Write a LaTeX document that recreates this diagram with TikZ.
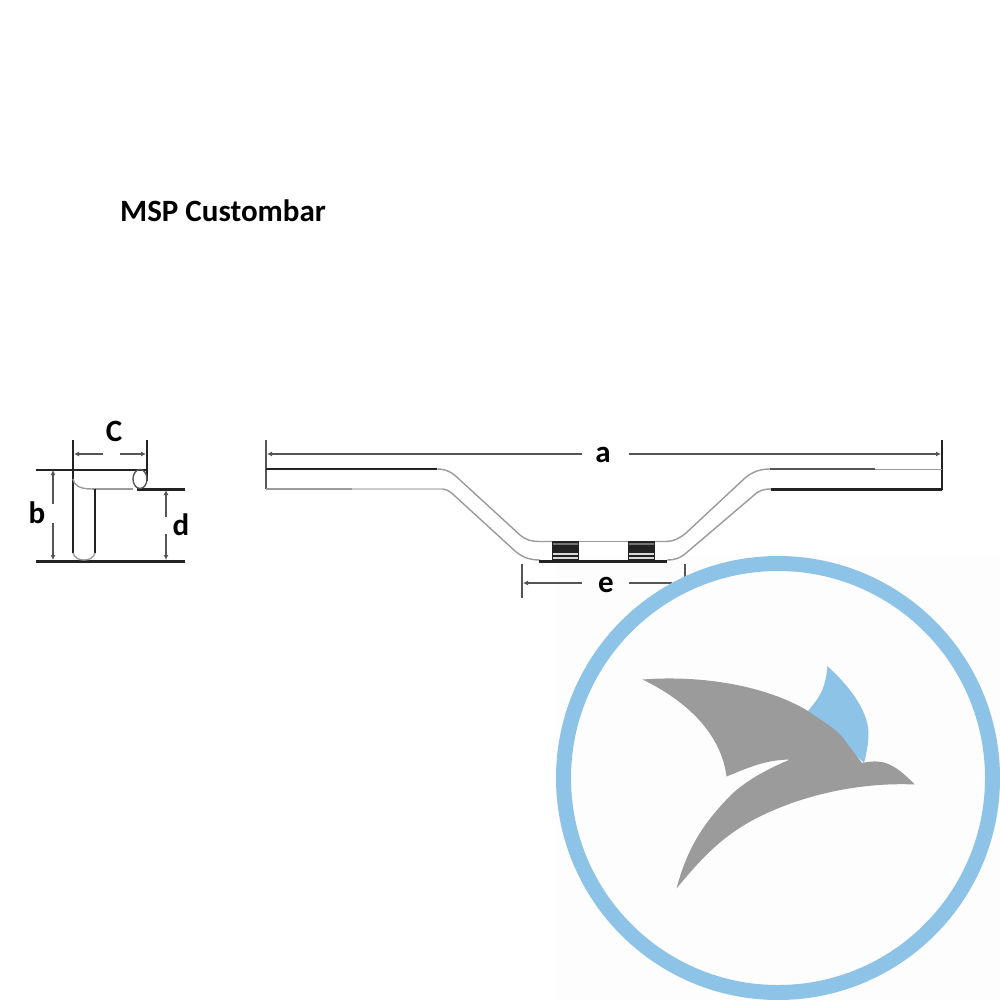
\documentclass[tikz,border=0pt]{standalone}
\usepackage{fontspec}
\setmainfont{Carlito}
\usetikzlibrary{arrows.meta}
\definecolor{ringblue}{HTML}{8DC3E6}
\definecolor{birdgrey}{HTML}{9B9B9B}
\definecolor{linegrey}{HTML}{555555}
\definecolor{softgrey}{HTML}{9A9A9A}
\definecolor{inkblack}{HTML}{222222}
\tikzset{
  lab/.style={font=\bfseries\fontsize{31}{33}\selectfont,text=black,inner sep=0pt},
  dim/.style={draw=linegrey,line width=1.2pt},
  dimtip/.style={dim,-{Latex[length=5pt,width=5pt]}},
  heavy/.style={draw=inkblack,line width=3pt},
  ext/.style={draw=inkblack,line width=1.4pt},
  tube/.style={draw=softgrey,line width=1.4pt}
}
\begin{document}
\begin{tikzpicture}[x=1pt,y=-1pt]
\useasboundingbox (0,0) rectangle (1000,1000);
\fill[white] (0,0) rectangle (1000,1000);
\fill[white!99.4!black] (556,556) rectangle (1000,1000);

% title
\node[lab,anchor=west] (title) at (120,211) {MSP Custombar};

% side view
\draw[ext] (73,440) -- (73,553);
\draw[ext] (147,440) -- (147,481);
\node[lab] (C) at (114,431) {C};
\draw[dimtip] (103,454) -- (74,454);
\draw[dimtip] (120,454) -- (146,454);
\draw[ext] (36,470) -- (147,470);
\draw[heavy] (137,489) -- (185,489);
\draw[heavy] (36,561) -- (185,561);
\draw[tube] (92,489) -- (133,489);
\draw[tube] (73,479) .. controls (74,485) and (79,489) .. (92,489);
\draw[draw=linegrey,line width=1.4pt] (140,479) ellipse[x radius=7,y radius=9.5];
\draw[draw=inkblack,line width=2.6pt] (95,489) -- (95,553);
\draw[tube] (73,553) .. controls (75,558) and (78,560) .. (84,560) .. controls (90,560) and (93,558) .. (95,553);
\node[lab] (b) at (37,513) {b};
\draw[dimtip] (53,504) -- (53,470);
\draw[dimtip] (53,523) -- (53,560);
\node[lab] (d) at (181,525) {d};
\draw[dimtip] (166,517) -- (166,490);
\draw[dimtip] (166,534) -- (166,560);

% front view: dimension a
\node[lab] (a) at (603,455) {a};
\draw[line width=1.8pt,draw=linegrey] (266,440) -- (266,489);
\draw[line width=1.8pt,draw=inkblack] (942,440) -- (942,490);
\draw[dimtip] (582,454) -- (267,454);
\draw[dimtip] (629,454) -- (941,454);

% tube, upper edge
\draw[ext] (266,469) -- (437,469);
\draw[tube] (437,469) .. controls (447,469) and (453,473) .. (460,480) -- (520,535) .. controls (526,540) and (531,541.5) .. (540,541.5) -- (552,541.5);
\draw[tube] (654,541.5) -- (665,541.5) .. controls (674,541.5) and (680,538) .. (686,533) -- (745,478) .. controls (752,472) and (760,469) .. (770,469);
\draw[draw=linegrey,line width=1.4pt] (770,469) -- (875,469);
\draw[draw=softgrey,line width=1pt] (875,469) -- (942,469);
% tube, lower edge
\draw[draw=softgrey,line width=1.4pt] (266,489) -- (352,489);
\draw[draw=black!20,line width=1.4pt] (352,489) -- (443,489);
\draw[tube] (443,489) .. controls (448,490) and (451,492) .. (456,497) -- (515,551) .. controls (522,557) and (529,560) .. (540,560);
\draw[tube] (667,560) .. controls (675,560) and (680,558) .. (685,554) -- (753,496) .. controls (758,491) and (763,489) .. (771,489);
\draw[heavy] (771,489) -- (942,489);
\draw[heavy] (539,561) -- (667,561);

% clamp knurls
\foreach \cx in {552,628}{
  \fill[inkblack] (\cx,541) rectangle (\cx+27,561);
  \fill[black!55] (\cx+1,542.5) rectangle (\cx+26,545);
  \fill[black!15] (\cx+1,552.5) rectangle (\cx+26,554.5);
  \fill[black!15] (\cx+1,556.5) rectangle (\cx+26,558.5);
}
\draw[tube] (579,541.5) -- (628,541.5);

% dimension e
\node[lab] (e) at (606,585) {e};
\draw[line width=1.4pt,draw=linegrey] (522,564) -- (522,598);
\draw[line width=1.4pt,draw=linegrey] (685,564) -- (685,580);
\draw[dimtip] (582,583) -- (523,583);
\draw[dim] (629,583) -- (672,583);

% logo
\draw[ringblue,line width=15pt] (778,778) circle[radius=214.5];
\fill[ringblue] (808,711) .. controls (815,702) and (826,692) .. (827.3,666)
  .. controls (845,682) and (868,708) .. (868.5,733)
  .. controls (868.5,745) and (866,755) .. (864,763) -- (835,735) -- cycle;
\fill[birdgrey] (642.5,679.5) .. controls (700,675) and (765,685) .. (808,711)
  .. controls (825,723) and (835,728) .. (843,738)
  -- (862,763)
  .. controls (885,758) and (895,765) .. (915,784.5)
  .. controls (860,782) and (800,795) .. (753,820)
  .. controls (720,838) and (700,860) .. (676.5,888.5)
  .. controls (688,845) and (706,820) .. (733,793)
  .. controls (750,778) and (770,768) .. (790,759.5)
  .. controls (765,760) and (750,767) .. (726.5,776.5)
  .. controls (722,740) and (695,705) .. (642.5,679.5) -- cycle;
\end{tikzpicture}
\end{document}
